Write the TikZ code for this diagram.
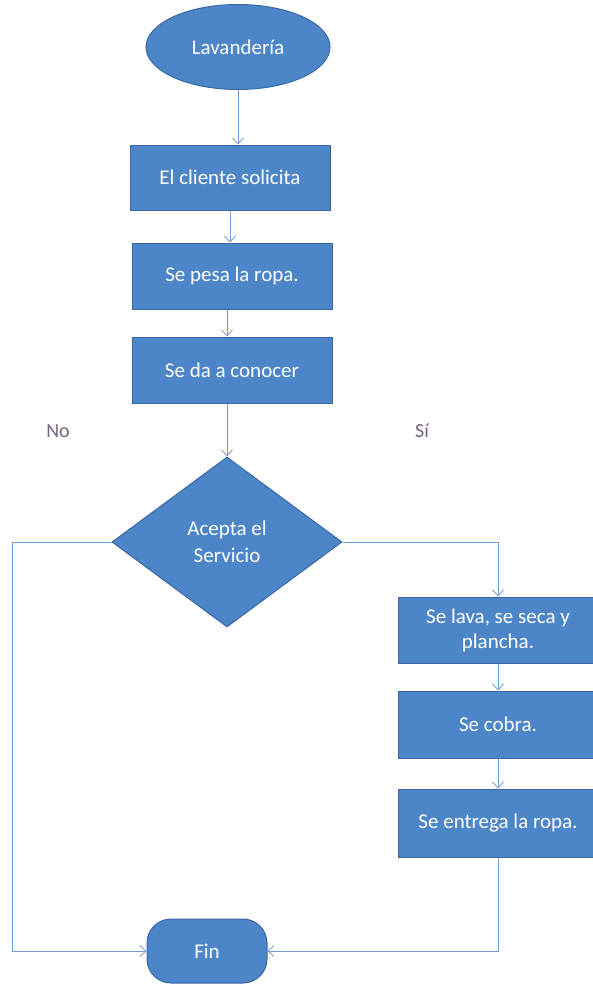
\documentclass[tikz,border=0pt]{standalone}
\usepackage{fontspec}
\setmainfont{Carlito}
\usetikzlibrary{shapes.geometric,arrows.meta}
\definecolor{boxfill}{RGB}{76,134,200}
\definecolor{boxline}{RGB}{58,104,166}
\definecolor{linecol}{RGB}{112,160,210}
\definecolor{lblcol}{RGB}{118,100,128}
\tikzset{
  proc/.style={draw=boxline, fill=boxfill, line width=1pt, minimum width=200pt,
    minimum height=66pt, text=white, font=\fontsize{21}{25}\selectfont,
    align=center, inner sep=0pt},
  conn/.style={draw=linecol, line width=0.8pt, -{Straight Barb[length=6pt,width=11pt]}},
  plain/.style={draw=linecol, line width=0.8pt},
  lbl/.style={text=lblcol, font=\fontsize{20}{24}\selectfont, inner sep=0pt}
}
\begin{document}
\begin{tikzpicture}[x=1pt,y=-1pt]
\useasboundingbox (0,0) rectangle (593,985);
\clip (0,0) rectangle (593,985);
\fill[white] (0,0) rectangle (593,985);

\node[draw=boxline, fill=boxfill, line width=1pt, ellipse, minimum width=184pt,
  minimum height=85pt, inner sep=0pt, text=white,
  font=\fontsize{21}{25}\selectfont] (start) at (238,47) {Lavandería};
\node[proc, minimum height=65pt] (b1) at (230,177.5) {El cliente solicita};
\node[proc] (b2) at (232,276) {Se pesa la ropa.};
\node[proc] (b3) at (232,370) {Se da a conocer};
\node[draw=boxline, fill=boxfill, line width=1pt, diamond, minimum width=230pt,
  minimum height=170pt, inner sep=0pt, text=white, align=center,
  font=\fontsize{21}{27}\selectfont] (dia) at (227,542) {Acepta el\\Servicio};
\node[proc] (b4) at (498,630) {Se lava, se seca y\\plancha.};
\node[proc, minimum height=67pt] (b5) at (498,724.5) {Se cobra.};
\node[proc, minimum height=68pt] (b6) at (498,823) {Se entrega la ropa.};
\node[draw=boxline, fill=boxfill, line width=1pt, rectangle, rounded corners=24pt,
  minimum width=120pt, minimum height=64pt, inner sep=0pt, text=white,
  font=\fontsize{21}{25}\selectfont] (fin) at (207,951) {Fin};

\node[lbl] (no) at (58,431) {No};
\node[lbl] (si) at (422,431) {Sí};

\coordinate (lc) at (12,542);

\draw[conn] (start.south) -- (start.south |- b1.north);
\draw[conn] (b1.south) -- (b1.south |- b2.north);
\draw[conn] (b2.south -| dia.north) -- (b3.north -| dia.north);
\draw[conn] (b3.south -| dia.north) -- (dia.north);
\draw[conn] (dia.east) -| (b4.north);
\draw[conn] (b4.south) -- (b5.north);
\draw[conn] (b5.south) -- (b6.north);
\draw[conn] (b6.south) |- (fin.east);
\draw[conn] (dia.west) -- (lc) |- (fin.west);
\end{tikzpicture}
\end{document}
